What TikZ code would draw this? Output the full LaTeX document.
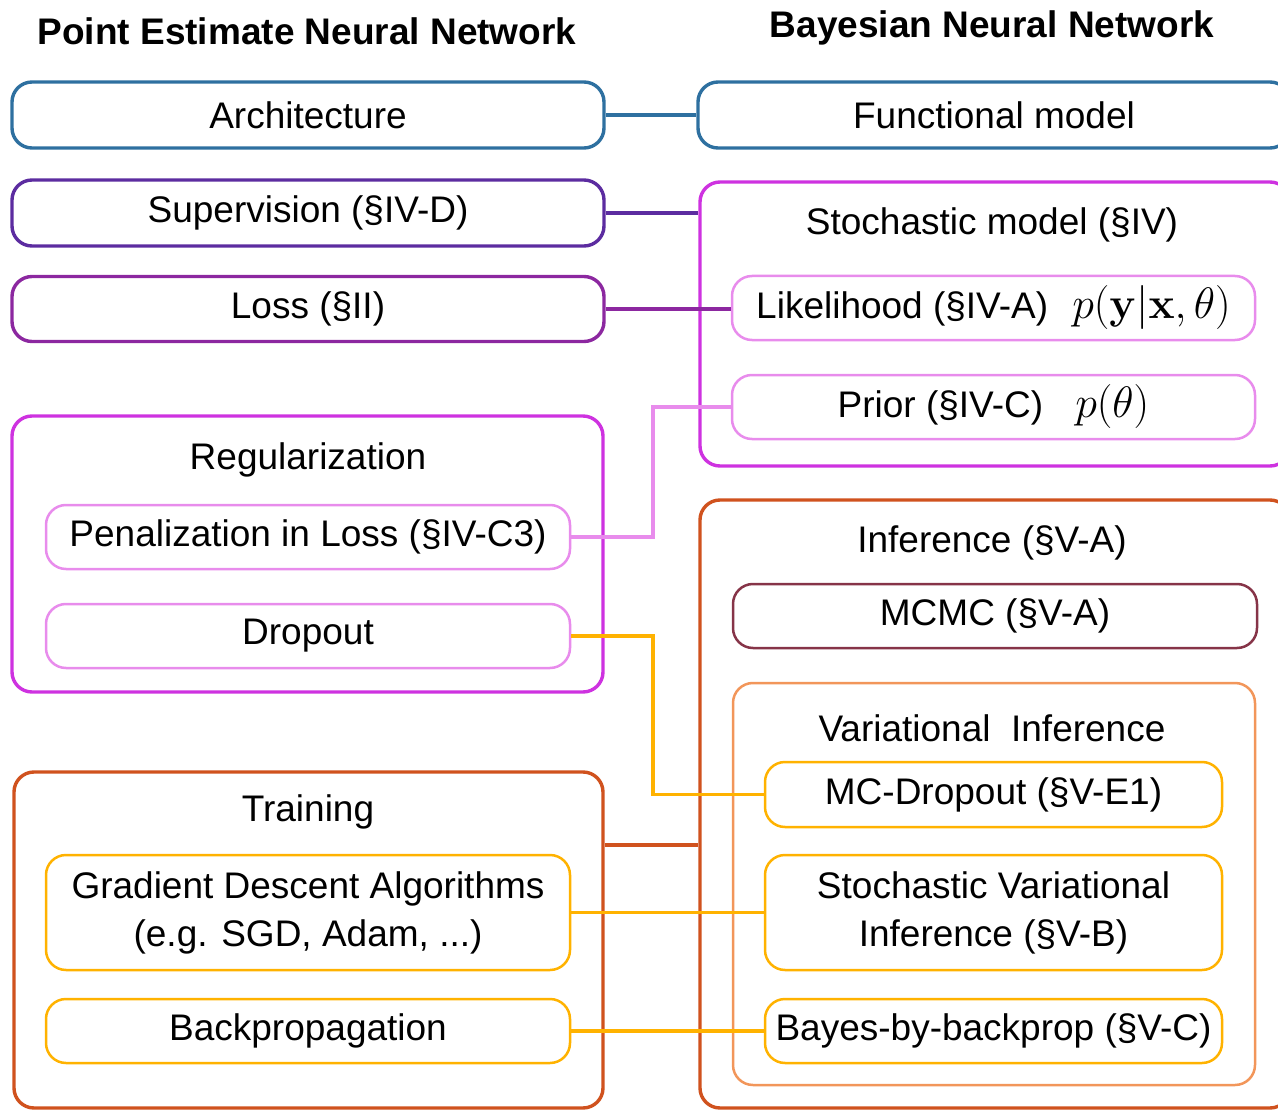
\RequirePackage{fix-cm}
\documentclass[tikz,border=0pt]{standalone}
\usepackage[no-math]{fontspec}
\setmainfont{Liberation Sans}
\usetikzlibrary{calc}
\definecolor{cblue}{RGB}{46,112,160}
\definecolor{cindigo}{RGB}{92,44,160}
\definecolor{cpurple}{RGB}{140,40,160}
\definecolor{cmag}{RGB}{206,50,224}
\definecolor{clvio}{RGB}{232,140,236}
\definecolor{corb}{RGB}{208,82,30}
\definecolor{cmaroon}{RGB}{134,52,72}
\definecolor{clor}{RGB}{242,150,90}
\definecolor{cgold}{RGB}{255,178,0}
\newcommand{\fsz}{\fontsize{37}{48}\selectfont}
\newcommand{\mylargemath}[1]{{\fontsize{44}{48}\selectfont$#1$}}
\tikzset{
  box/.style={draw, rounded corners=20pt, inner sep=0pt, align=center, font=\fsz, text=black},
  outerbox/.style={box, line width=3.4pt},
  innerbox/.style={box, line width=2.5pt},
  ttl/.style={font=\fsz, text=black, inner sep=0pt},
  head/.style={font=\fontsize{37}{44}\selectfont\bfseries, text=black, inner sep=0pt},
  conn/.style={line width=3.2pt}
}
\begin{document}
\begin{tikzpicture}[x=1pt,y=-1pt]
\useasboundingbox (0,0) rectangle (1278,1110);
\clip (0,0) rectangle (1278,1110);
% titles
\node[head] (hl) at (307,31) {Point Estimate Neural Network};
\node[head] (hr) at (992,28) {Bayesian Neural Network};
% left column
\node[outerbox, draw=cblue, minimum width=592pt, minimum height=66pt] (arch) at (308,115) {Architecture};
\node[outerbox, draw=cindigo, minimum width=592pt, minimum height=66pt] (sup) at (308,213) {Supervision (§IV-D)};
\node[outerbox, draw=cpurple, minimum width=592pt, minimum height=65pt] (loss) at (308,309) {Loss (§II)};
\node[outerbox, draw=cmag, minimum width=591pt, minimum height=276pt] (reg) at (307.5,554) {};
\node[ttl] (regt) at (308,460) {Regularization};
\node[innerbox, draw=clvio, minimum width=524pt, minimum height=64pt] (pen) at (308,537) {Penalization in Loss (§IV-C3)};
\node[innerbox, draw=clvio, minimum width=524pt, minimum height=64pt] (drop) at (308,636) {Dropout};
\node[outerbox, draw=corb, minimum width=589pt, minimum height=336pt] (train) at (308.5,940) {};
\node[ttl] (traint) at (308,812) {Training};
\node[innerbox, draw=cgold, minimum width=524pt, minimum height=115pt] (gd) at (308,912.5) {Gradient Descent Algorithms\\(e.g. SGD, Adam, ...)};
\node[innerbox, draw=cgold, minimum width=524pt, minimum height=64pt] (bp) at (308,1031) {Backpropagation};
% right column
\node[outerbox, draw=cblue, minimum width=592pt, minimum height=66pt] (func) at (994,115) {Functional model};
\node[outerbox, draw=cmag, minimum width=590pt, minimum height=284pt] (stoch) at (995,324) {};
\node[ttl] (stocht) at (992,225) {Stochastic model (§IV)};
\node[innerbox, draw=clvio, minimum width=523pt, minimum height=64pt] (lik) at (993.5,308) {Likelihood (§IV-A)\hspace{24pt}\mylargemath{p(\mathbf{y}|\mathbf{x},\theta)}};
\node[innerbox, draw=clvio, minimum width=523pt, minimum height=64pt] (prior) at (993.5,407) {Prior (§IV-C)\hspace{32pt}\mylargemath{p(\theta)}};
\node[outerbox, draw=corb, minimum width=590pt, minimum height=608pt] (inf) at (995,804) {};
\node[ttl] (inft) at (992,543) {Inference (§V-A)};
\node[innerbox, draw=cmaroon, minimum width=524pt, minimum height=64pt] (mcmc) at (995,616) {MCMC (§V-A)};
\node[innerbox, draw=clor, minimum width=522pt, minimum height=402pt] (vi) at (994,884) {};
\node[ttl] (vit) at (992,728) {Variational\ \ Inference};
\node[innerbox, draw=cgold, minimum width=457pt, minimum height=65pt] (mcd) at (993.5,794.5) {MC-Dropout (§V-E1)};
\node[innerbox, draw=cgold, minimum width=457pt, minimum height=115pt] (svi) at (993.5,912.5) {Stochastic Variational\\Inference (§V-B)};
\node[innerbox, draw=cgold, minimum width=457pt, minimum height=64pt] (bbb) at (993.5,1031) {Bayes-by-backprop (§V-C)};
% connectors
\coordinate (jx) at (653,0);
\draw[conn, cblue] (arch.east) -- (func.west);
\draw[conn, cindigo] (sup.east) -- (sup.east -| stoch.west);
\draw[conn, cpurple] (loss.east) -- (loss.east -| lik.west);
\draw[conn, clvio] (prior.west) -- (prior.west -| jx) |- (pen.east);
\draw[conn, cgold] (drop.east) -- (drop.east -| jx) |- (mcd.west);
\draw[conn, corb] ([yshift=95pt]train.east) -- ([yshift=95pt]train.east -| inf.west);
\draw[conn, cgold] (gd.east) -- (svi.west);
\draw[conn, cgold] (bp.east) -- (bbb.west);
\end{tikzpicture}
\end{document}
